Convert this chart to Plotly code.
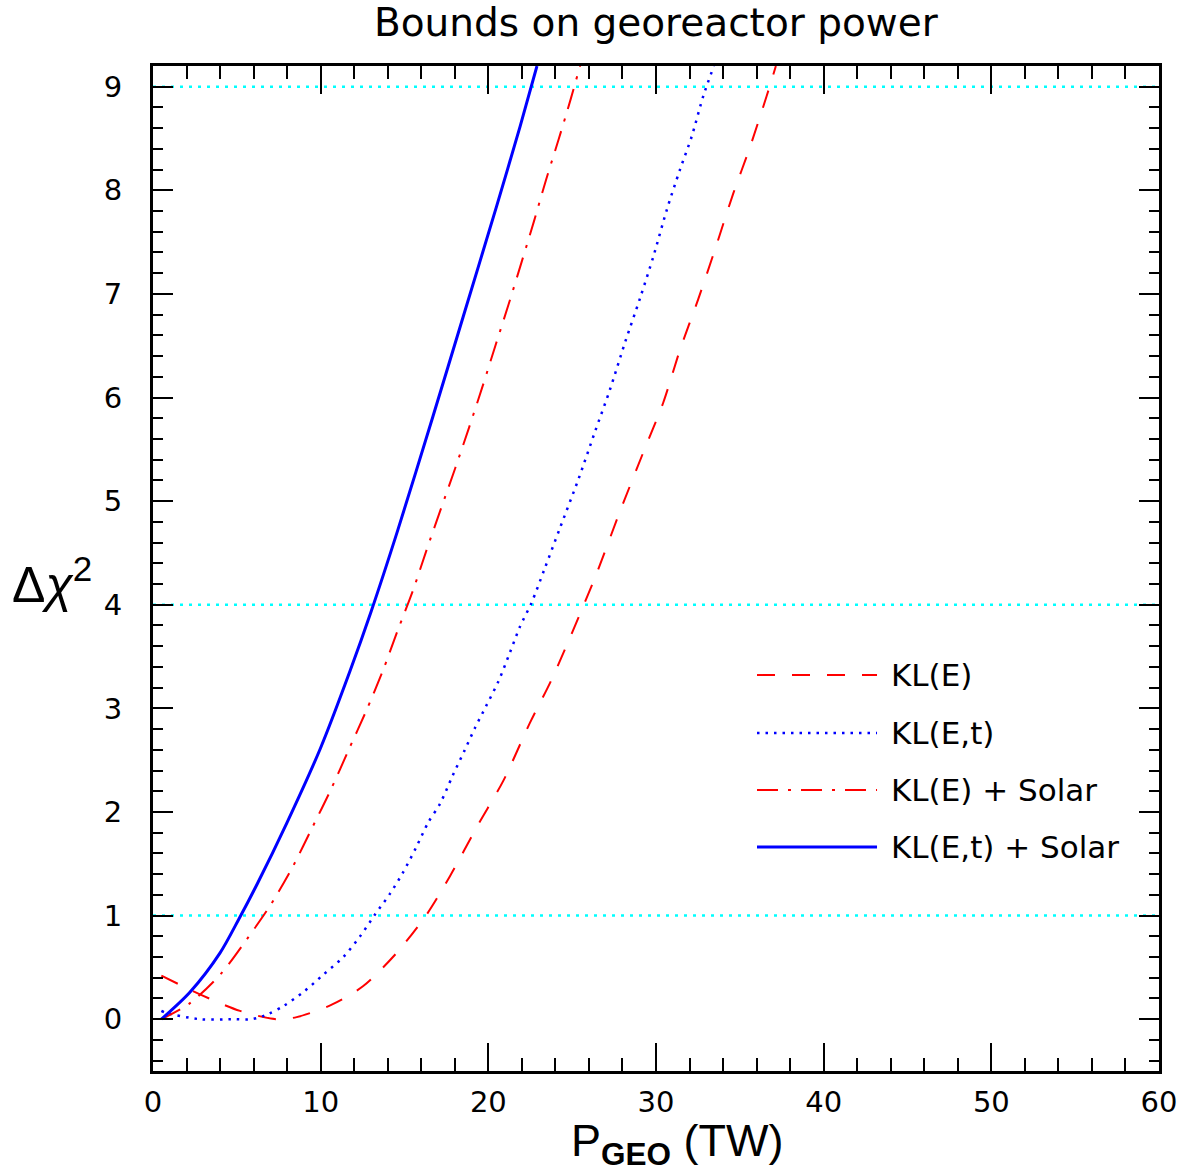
import plotly.graph_objects as go

# ---- data ----
solid_x = [0.5, 2.2, 4.0, 5.1, 6.2, 8.0, 10.0, 11.75, 13.0, 14.6, 16.7, 18.5, 20.5, 21.9, 22.9]
solid_y = [0.0, 0.26, 0.64, 0.96, 1.30, 1.90, 2.62, 3.36, 3.93, 4.72, 5.82, 6.78, 7.85, 8.62, 9.2]

dashdot_x = [0.5, 2.17, 4.06, 5.59, 7.04, 8.33, 9.50, 10.62, 11.67, 12.70, 13.70, 14.59, 15.51,
             16.32, 17.18, 18.03, 18.85, 19.66, 20.42, 21.21, 21.97, 22.72, 23.44, 24.19, 24.93, 25.47]
dashdot_y = [0.0, 0.15, 0.44, 0.77, 1.11, 1.47, 1.85, 2.22, 2.60, 2.97, 3.36, 3.75, 4.14,
             4.53, 4.93, 5.32, 5.71, 6.11, 6.50, 6.90, 7.30, 7.70, 8.10, 8.49, 8.89, 9.2]

dotted_x = [0.5, 0.8, 2.8, 4.85, 5.88, 6.88, 7.81, 9.03, 10.16, 11.35, 12.35, 13.24, 14.13, 14.89,
            15.67, 16.42, 17.12, 17.87, 18.57, 19.20, 19.86, 20.60, 21.29, 21.89, 22.58, 23.34,
            24.27, 25.37, 26.36, 27.26, 28.15, 29.05, 29.84, 30.64, 31.43, 32.13, 32.82, 33.45]
dotted_y = [0.08, 0.06, 0.0, 0.0, 0.0, 0.05, 0.13, 0.27, 0.43, 0.60, 0.80, 1.01, 1.21, 1.41,
            1.65, 1.90, 2.08, 2.35, 2.59, 2.81, 3.02, 3.26, 3.54, 3.79, 4.02, 4.34,
            4.74, 5.21, 5.67, 6.08, 6.53, 6.96, 7.36, 7.81, 8.20, 8.52, 8.91, 9.2]

dashed_x = [0.5, 2.8, 5.19, 7.38, 8.57, 10.66, 12.54, 14.53, 16.32, 17.71, 19.40, 20.89, 22.48,
            23.78, 25.67, 26.5, 27.85, 29.24, 30.43, 31.43, 32.52, 33.52, 34.61, 35.61, 36.6, 37.15]
dashed_y = [0.42, 0.24, 0.08, 0.0, 0.02, 0.14, 0.32, 0.64, 1.01, 1.38, 1.88, 2.30, 2.86,
            3.28, 3.99, 4.32, 4.90, 5.47, 5.95, 6.46, 6.95, 7.43, 7.97, 8.42, 8.91, 9.2]

ref_levels = [1, 4, 9]

legend_labels = ["KL(E)", "KL(E,t)", "KL(E) + Solar", "KL(E,t) + Solar"]
x_ticks = [0, 10, 20, 30, 40, 50, 60]
y_ticks = [0, 1, 2, 3, 4, 5, 6, 7, 8, 9]

FONT = "DejaVu Sans"
RED = "#ff0000"
BLUE = "#0000ff"
CYAN = "#00ffff"

styles = [
    dict(color=RED, width=2, dash="18px,17px"),
    dict(color=BLUE, width=2.5, dash="2.5px,6px"),
    dict(color=RED, width=2, dash="21px,10px,3px,10px"),
    dict(color=BLUE, width=3, dash="solid"),
]

fig = go.Figure()

series = [(dashed_x, dashed_y), (dotted_x, dotted_y), (dashdot_x, dashdot_y), (solid_x, solid_y)]
for (xs, ys), st, name in zip(series, styles, legend_labels):
    fig.add_trace(go.Scatter(x=xs, y=ys, mode="lines", name=name,
                             line=dict(shape="spline", smoothing=0.8, **st),
                             showlegend=False, hoverinfo="skip"))

shapes = []
for lv in ref_levels:
    shapes.append(dict(type="line", xref="paper", yref="y", x0=0, x1=1, y0=lv, y1=lv,
                       line=dict(color=CYAN, width=2.5, dash="3px,6px"), layer="below"))

# manual legend
leg_y = [0.394, 0.3363, 0.2796, 0.2229]
annotations = []
for st, name, ly in zip(styles, legend_labels, leg_y):
    shapes.append(dict(type="line", xref="paper", yref="paper", x0=0.6004, x1=0.7197, y0=ly, y1=ly,
                       line=dict(color=st["color"], width=st["width"], dash=st["dash"])))
    annotations.append(dict(text=name, xref="paper", yref="paper", x=0.7316, y=ly, xanchor="left",
                            yanchor="middle", showarrow=False, font=dict(family=FONT, size=31, color="black")))

annotations.append(dict(text="Δ<i>χ</i><sup>2</sup>", xref="paper", yref="paper", x=-0.142, y=0.488,
                        xanchor="left", yanchor="middle", showarrow=False,
                        font=dict(family="Liberation Sans", size=50, color="black")))
annotations.append(dict(text="P<sub><b>GEO</b></sub> (TW)", xref="paper", yref="paper", x=0.521, y=-0.072,
                        xanchor="center", yanchor="middle", showarrow=False,
                        font=dict(family="Liberation Sans", size=45, color="black")))
annotations.append(dict(text="Bounds on georeactor power", xref="paper", yref="paper", x=0.5, y=1.0,
                        yshift=44, xanchor="center", yanchor="middle", showarrow=False,
                        font=dict(family=FONT, size=39, color="black")))

axis_common = dict(showline=True, linecolor="black", linewidth=3, mirror="allticks", ticks="inside",
                   tickcolor="black", tickwidth=2, showgrid=False, zeroline=False,
                   tickfont=dict(family=FONT, size=29, color="black"))

fig.update_layout(
    width=1188, height=1172,
    margin=dict(l=153, r=29, t=66, b=101),
    paper_bgcolor="white", plot_bgcolor="white",
    shapes=shapes, annotations=annotations,
    xaxis=dict(range=[0, 60], tickvals=x_ticks, ticklen=28, ticklabelstandoff=3,
               minor=dict(dtick=2, tick0=0, ticklen=13, tickwidth=2, tickcolor="black", ticks="inside"),
               **axis_common),
    yaxis=dict(range=[-0.5, 9.2], tickvals=y_ticks, ticklen=20, ticklabelstandoff=22,
               minor=dict(dtick=0.2, tick0=0, ticklen=10, tickwidth=2, tickcolor="black", ticks="inside"),
               **axis_common),
    showlegend=False,
)

fig.write_html("out.html")
